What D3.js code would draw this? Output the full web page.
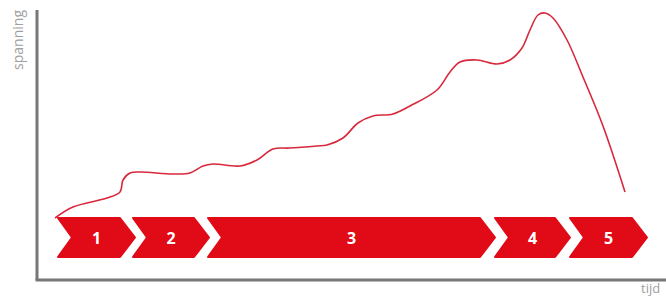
<!DOCTYPE html>
<html>
<head>
<meta charset="utf-8">
<script src="https://cdn.jsdelivr.net/npm/d3@7"></script>
<style>
  body { margin: 0; background: #fff; }
  svg { display: block; }
</style>
</head>
<body>
<div id="chart"></div>
<script>
// Chart size
var svgWidth = 666;
var svgHeight = 298;

// origin of the axes in the picture
var chartMargin = { top: 10, right: 0, bottom: 18, left: 37 };
var chartWidth = svgWidth - chartMargin.left - chartMargin.right;
var chartHeight = svgHeight - chartMargin.top - chartMargin.bottom;

// tension curve (tijd, spanning)
var tijd = [18, 36, 70, 83, 86, 93, 103, 136, 153, 166, 176, 203, 220, 236, 253, 280,
  290, 306, 321, 336, 356, 373, 400, 413, 423, 440, 460, 473, 485, 493, 501, 508,
  516, 530, 546, 566, 588];
var spanning = [62, 73, 82, 88, 100, 107, 108, 106, 107, 114, 116, 114, 120, 131, 132, 134,
  135, 142, 157, 164, 166, 174, 190, 208, 218, 220, 216, 220, 232, 250, 265, 267,
  262, 240, 203, 154, 88];

// phases
var phases = ["1", "2", "3", "4", "5"];
var phaseStart = [21, 96, 171, 458, 533];
var phaseEnd = [98, 172, 458, 533, 610];

var svg = d3.select("#chart")
  .append("svg")
  .attr("width", svgWidth)
  .attr("height", svgHeight);

var chartGroup = svg.append("g")
  .attr("transform", `translate(${chartMargin.left}, ${chartMargin.top})`);

var xScale = d3.scaleLinear().domain([0, chartWidth]).range([0, chartWidth]);
var yScale = d3.scaleLinear().domain([0, 270]).range([chartHeight, 0]);

// phase arrows
var arrowTop = yScale(62);
var arrowBottom = yScale(23);
var arrowMid = (arrowTop + arrowBottom) / 2;
var tip = 15;

chartGroup.selectAll("path.phase")
  .data(phases)
  .enter()
  .append("path")
  .attr("class", "phase")
  .attr("d", function(d, i) {
    var x0 = xScale(phaseStart[i]);
    var x1 = xScale(phaseEnd[i]);
    return "M" + x0 + "," + arrowTop +
      "L" + (x1 - tip) + "," + arrowTop +
      "L" + x1 + "," + arrowMid +
      "L" + (x1 - tip) + "," + arrowBottom +
      "L" + x0 + "," + arrowBottom +
      "L" + (x0 + tip - 1) + "," + arrowMid + "Z";
  })
  .attr("fill", "#e10a17")
  .attr("stroke", "#e10a17")
  .attr("stroke-width", 2)
  .attr("stroke-linejoin", "round");

chartGroup.selectAll("text.phase")
  .data(phases)
  .enter()
  .append("text")
  .attr("class", "phase")
  .attr("x", (d, i) => (xScale(phaseStart[i]) + xScale(phaseEnd[i])) / 2)
  .attr("y", arrowMid + 6)
  .attr("text-anchor", "middle")
  .attr("fill", "#fff")
  .attr("font-family", "Open Sans, sans-serif")
  .attr("font-weight", "bold")
  .attr("font-size", 16)
  .text(d => d);

// tension line
var line = d3.line()
  .x((d, i) => xScale(tijd[i]))
  .y((d, i) => yScale(spanning[i]))
  .curve(d3.curveCatmullRom.alpha(0.5));

chartGroup.append("path")
  .datum(tijd)
  .attr("d", line)
  .attr("fill", "none")
  .attr("stroke", "#d8283c")
  .attr("stroke-width", 1.6);

// axes
chartGroup.append("line")
  .attr("x1", 0).attr("y1", 0)
  .attr("x2", 0).attr("y2", chartHeight)
  .attr("stroke", "#777")
  .attr("stroke-width", 3);

chartGroup.append("line")
  .attr("x1", -1.5).attr("y1", chartHeight)
  .attr("x2", chartWidth).attr("y2", chartHeight)
  .attr("stroke", "#777")
  .attr("stroke-width", 3);

chartGroup.append("text")
  .attr("transform", "rotate(-90)")
  .attr("x", 0)
  .attr("y", -14)
  .attr("text-anchor", "end")
  .attr("fill", "#a0a0a0")
  .attr("font-family", "Open Sans, sans-serif")
  .attr("font-size", 14)
  .text("spanning");

chartGroup.append("text")
  .attr("x", chartWidth - 25)
  .attr("y", chartHeight + 13)
  .attr("fill", "#a0a0a0")
  .attr("font-family", "Open Sans, sans-serif")
  .attr("font-size", 13)
  .text("tijd");
</script>
</body>
</html>
